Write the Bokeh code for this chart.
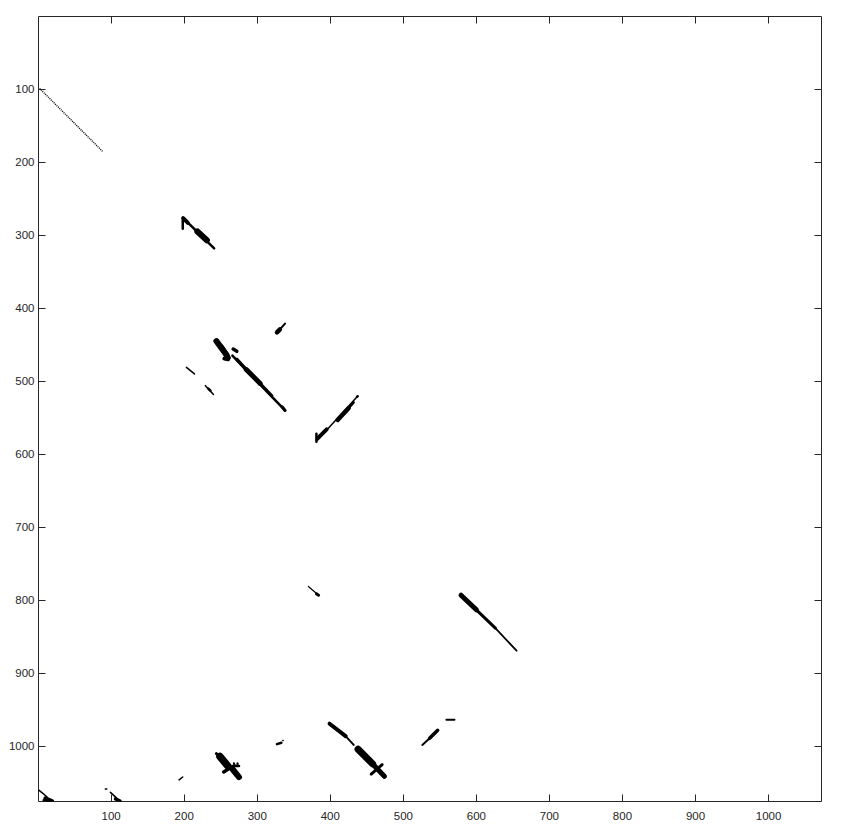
from bokeh.plotting import figure
from bokeh.models import Range1d, FixedTicker, LinearAxis, ColumnDataSource
from bokeh.embed import file_html
from bokeh.resources import INLINE

# ---- data (matrix row/column coordinates of the black streaks) ----
x_ticks = [100, 200, 300, 400, 500, 600, 700, 800, 900, 1000]
y_ticks = [100, 200, 300, 400, 500, 600, 700, 800, 900, 1000]
x_lim = [0.5, 1072.5]
y_lim = [0.5, 1075.5]

# sparse dotted diagonal near the top-left
dot_x0 = [2]
dot_y0 = [99]
dot_x1 = [89]
dot_y1 = [186]

# solid streak segments: start / end column & row, stroke thickness
seg_x0 = [198, 198, 199, 218,
          244, 252, 266, 272, 285, 304, 334, 267, 255,
          327, 331,
          203, 229, 233,
          382, 383, 381, 410, 425, 436.5,
          370, 381,
          579, 600, 626,
          244, 249, 259, 266, 254, 265, 268, 273,
          327, 335,
          399, 421, 438, 456, 456,
          526, 536,
          559,
          1, 10, 8,
          99, 106, 92,
          193]
seg_y0 = [276, 276, 277, 295,
          445, 452, 465, 470, 484, 503, 535, 456, 469,
          433, 429,
          481, 506, 510,
          581, 578, 572, 553, 537, 521.5,
          781, 791,
          793, 813, 838,
          1010, 1014, 1026, 1031, 1035, 1027, 1023, 1023,
          997, 992,
          969, 986, 1004, 1022, 1038,
          998, 989,
          963.5,
          1060, 1071, 1074,
          1063, 1072, 1058.5,
          1046]
seg_x1 = [198, 241, 205, 231,
          258, 262, 338, 285, 304, 320, 338, 272, 260,
          331, 338,
          214, 240, 236,
          437, 395, 381, 425, 432, 437.5,
          384, 384,
          600, 626, 655,
          249, 259, 266, 275, 262, 275, 269, 273,
          333, 335.5,
          421, 432, 458, 474, 471,
          536, 547,
          570,
          12, 19, 19,
          112, 112, 94,
          198]
seg_y1 = [291, 318, 283, 307,
          464, 468, 540, 484, 503, 520, 540, 459, 470,
          429, 421,
          490, 518, 513,
          521, 566, 583, 537, 529, 520.5,
          793, 793,
          813, 838, 869,
          1014, 1026, 1031, 1042, 1030, 1027, 1026, 1026,
          995, 992,
          986, 998, 1024, 1041, 1025,
          989, 978,
          963.5,
          1069, 1075, 1075,
          1075, 1075, 1058.5,
          1042]
seg_w = [2.5, 2.5, 4, 6,
         6, 3, 2.5, 3.5, 5, 3, 3, 3.5, 4,
         4.5, 2,
         1.5, 1.5, 2.5,
         1.5, 4, 2.5, 4.5, 2.5, 2.5,
         1.2, 3,
         5, 3, 1.8,
         3, 7.5, 2, 6, 3.5, 2.5, 2, 2,
         2.5, 1.5,
         4, 2, 7, 5, 3,
         2, 3.5,
         2,
         1.5, 4, 3,
         1.5, 3.5, 1.5,
         1.5]

# ---- figure ----
p = figure(width=836, height=827,
           x_range=Range1d(x_lim[0], x_lim[1]),
           y_range=Range1d(y_lim[1], y_lim[0]),
           output_backend="svg", toolbar_location=None,
           min_border_left=38, min_border_right=15,
           min_border_top=16, min_border_bottom=26)
p.grid.visible = False
p.outline_line_color = "#262626"
p.outline_line_width = 1
p.background_fill_color = "white"
p.border_fill_color = "white"

src = ColumnDataSource(dict(x0=seg_x0, y0=seg_y0, x1=seg_x1, y1=seg_y1, w=seg_w))
p.segment(x0="x0", y0="y0", x1="x1", y1="y1", line_width="w",
          line_color="black", line_cap="round", source=src)
p.segment(x0=dot_x0, y0=dot_y0, x1=dot_x1, y1=dot_y1, line_width=1.4,
          line_color="black", line_dash="1 1")

def style(ax, ticks, labels=True, standoff=8):
    ax.ticker = FixedTicker(ticks=ticks)
    ax.axis_line_color = None
    ax.major_tick_in = 7
    ax.major_tick_out = 0
    ax.major_tick_line_color = "#262626"
    ax.minor_tick_line_color = None
    ax.major_label_text_font = "Liberation Sans"
    ax.major_label_text_font_size = "11.5px"
    ax.major_label_text_color = "#262626"
    ax.major_label_standoff = standoff
    if not labels:
        ax.major_label_overrides = {t: "" for t in ticks}

style(p.xaxis[0], x_ticks, True, 10)
style(p.yaxis[0], y_ticks, True, 4)

top_ax = LinearAxis()
style(top_ax, x_ticks, False, 0)
p.add_layout(top_ax, "above")
right_ax = LinearAxis()
style(right_ax, y_ticks, False, 0)
p.add_layout(right_ax, "right")

open("out.html", "w").write(file_html(p, INLINE))
